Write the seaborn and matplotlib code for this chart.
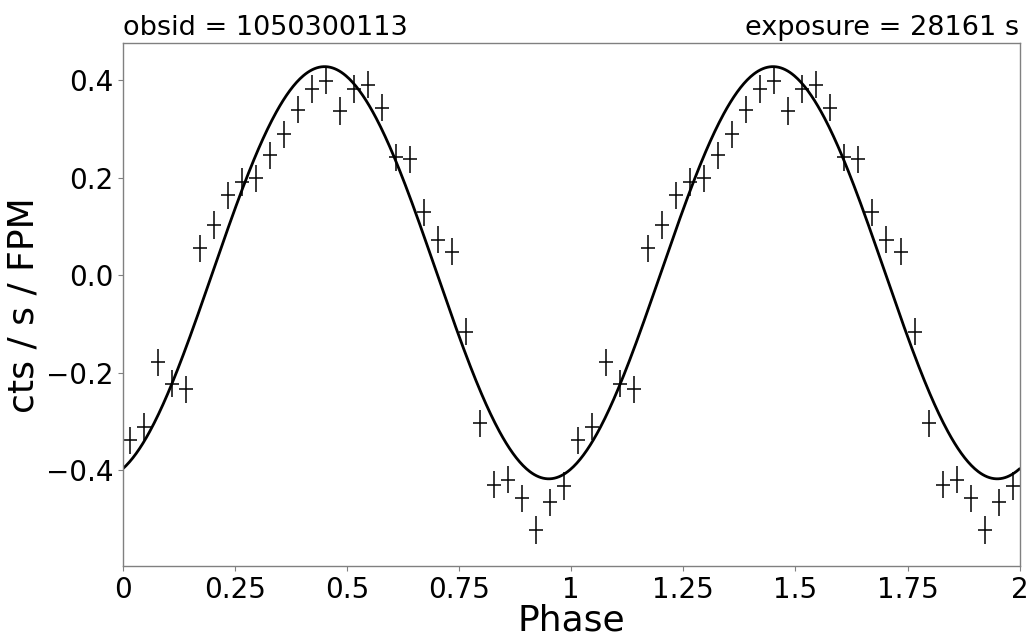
import numpy as np
import pandas as pd
import matplotlib
matplotlib.use("Agg")
import matplotlib.pyplot as plt
import seaborn as sns

# Binned light curve (one cycle, 32 bins), repeated for two cycles
rate = [-0.339, -0.311, -0.179, -0.223, -0.234, 0.055, 0.103, 0.164,
        0.191, 0.199, 0.246, 0.289, 0.340, 0.382, 0.399, 0.337,
        0.382, 0.391, 0.344, 0.242, 0.238, 0.129, 0.073, 0.048,
        -0.116, -0.304, -0.430, -0.420, -0.458, -0.523, -0.466, -0.433]
rate_err = [0.028] * 32
n_bins = 32

# Fitted sinusoid model parameters
model_amp = 0.423
model_offset = 0.005
model_peak_phase = 0.45

obsid_text = "obsid = 1050300113"
exposure_text = "exposure = 28161 s"
xtick_vals = [0, 0.25, 0.5, 0.75, 1, 1.25, 1.5, 1.75, 2]
xtick_labels = ["0", "0.25", "0.5", "0.75", "1", "1.25", "1.5", "1.75", "2"]
ytick_vals = [-0.4, -0.2, 0.0, 0.2, 0.4]
ytick_labels = ["\u22120.4", "\u22120.2", "0.0", "0.2", "0.4"]

sns.set_style("white")
plt.rcParams['font.family'] = ['DejaVu Sans']
plt.rcParams['text.color'] = 'black'
plt.rcParams['axes.labelcolor'] = 'black'
plt.rcParams['xtick.color'] = 'black'
plt.rcParams['ytick.color'] = 'black'

centers = (np.arange(n_bins) + 0.5) / n_bins
df = pd.DataFrame({
    "phase": np.concatenate([centers, centers + 1]),
    "rate": np.array(rate * 2),
    "err": np.array(rate_err * 2),
})
phase_grid = np.linspace(0, 2, 801)
model = pd.DataFrame({
    "phase": phase_grid,
    "rate": model_offset + model_amp * np.cos(2 * np.pi * (phase_grid - model_peak_phase)),
})

fig = plt.figure(figsize=(10.32, 6.36), dpi=100)
ax = fig.add_axes([0.119, 0.110, 0.869, 0.822])

ax.errorbar(df["phase"], df["rate"], yerr=df["err"], xerr=0.5 / n_bins,
            fmt="none", ecolor="black", elinewidth=1.1)
sns.lineplot(data=model, x="phase", y="rate", ax=ax, color="black", linewidth=2)

ax.set_xlim(0, 2)
ax.set_ylim(-0.597, 0.476)
ax.set_xticks(xtick_vals)
ax.set_xticklabels(xtick_labels)
ax.set_yticks(ytick_vals)
ax.set_yticklabels(ytick_labels)
ax.tick_params(axis="both", labelsize=20, direction="out", length=3.5,
               color="#808080", labelcolor="black", left=True, bottom=True)
for s in ax.spines.values():
    s.set_color("#808080")
    s.set_linewidth(1.0)
ax.set_xlabel("Phase", fontsize=26, labelpad=0, color="black")
ax.set_ylabel("cts / s / FPM", fontsize=26, color="black")
ax.set_title(obsid_text, loc="left", fontsize=19.5, color="black")
ax.set_title(exposure_text, loc="right", fontsize=19.5, color="black")

fig.savefig("out.png", dpi=100)
